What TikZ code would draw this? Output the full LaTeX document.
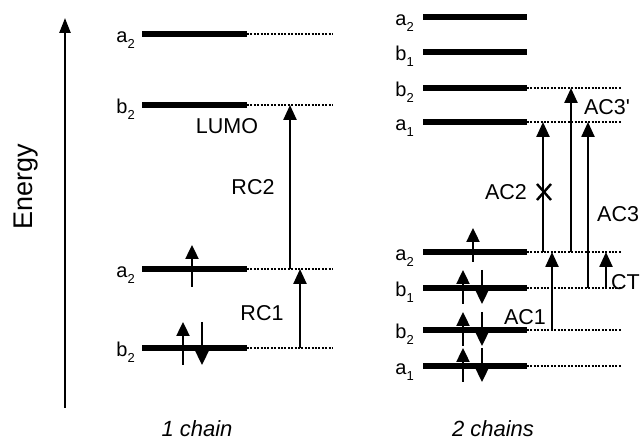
\documentclass[tikz,border=0pt]{standalone}
\usepackage{fontspec}
\setmainfont{Liberation Sans}
\usetikzlibrary{arrows.meta}
\newcommand{\lvl}[2]{#1\raisebox{-0.3em}{\fontsize{13}{13}\selectfont #2}}
\begin{document}
\begin{tikzpicture}[x=1pt,y=-1pt,
  levelline/.style={line width=5.4pt},
  guide/.style={line width=2pt,dash pattern=on 2pt off 1.4pt},
  trans/.style={line width=2.4pt,-{Triangle[length=15pt,width=13pt]}},
  elec/.style={line width=2.4pt,-{Triangle[length=14pt,width=13pt]}},
  lvlab/.style={font=\fontsize{20}{20}\selectfont,anchor=base east,inner sep=0pt},
  lab/.style={font=\fontsize{21.5}{22}\selectfont,inner sep=0pt},
  ital/.style={font=\fontsize{22}{22}\selectfont\itshape,inner sep=0pt}]
\useasboundingbox (0,0) rectangle (641,443);

% energy axis
\coordinate (ebot) at (65,408);
\coordinate (etop) at (65,18);
\draw[line width=2.4pt,-{Triangle[length=15pt,width=11pt]}] (ebot) -- (etop);
\node[font=\fontsize{27}{27}\selectfont,rotate=90,inner sep=0pt] (energy) at (26,187) {Energy};

% ---------- 1 chain ----------
\foreach \n/\y in {A/34,B/105,C/269,D/348}{
  \coordinate (L\n s) at (142,\y);
  \coordinate (L\n e) at (247,\y);
  \coordinate (L\n d) at (333,\y);
  \draw[levelline] (L\n s) -- (L\n e);
  \draw[guide] (L\n e) -- (L\n d);
}
\node[lvlab] (lA) at (135,43) {\lvl{a}{2}};
\node[lvlab] (lB) at (135,114) {\lvl{b}{2}};
\node[lvlab] (lC) at (135,278) {\lvl{a}{2}};
\node[lvlab] (lD) at (135,357) {\lvl{b}{2}};
\node[lab] (lumo) at (227,126) {LUMO};

% electrons
\coordinate (eC1a) at (192,287); \coordinate (eC1b) at (192,245);
\draw[elec] (eC1a) -- (eC1b);
\coordinate (eD1a) at (183,365); \coordinate (eD1b) at (183,322);
\draw[elec] (eD1a) -- (eD1b);
\coordinate (eD2a) at (202,322); \coordinate (eD2b) at (202,365);
\draw[elec] (eD2a) -- (eD2b);

% transitions
\coordinate (rc2x) at (290,0);
\coordinate (rc1x) at (300,0);
\draw[trans] (rc2x |- LCd) -- (rc2x |- LBd);
\draw[trans] (rc1x |- LDd) -- (rc1x |- LCd);
\node[lab] (rc2) at (253,187) {RC2};
\node[lab] (rc1) at (262,313) {RC1};

\node[ital] (one) at (197,429) {1 chain};

% ---------- 2 chains ----------
\foreach \n/\y in {P/17,Q/52}{
  \coordinate (R\n s) at (423,\y);
  \coordinate (R\n e) at (527,\y);
  \draw[levelline] (R\n s) -- (R\n e);
}
\foreach \n/\y in {R/88,S/122,T/252,U/288,V/330,W/366}{
  \coordinate (R\n s) at (423,\y);
  \coordinate (R\n e) at (527,\y);
  \coordinate (R\n d) at (621,\y);
  \draw[levelline] (R\n s) -- (R\n e);
  \draw[guide] (R\n e) -- (R\n d);
}
\node[lvlab] (rP) at (414,26) {\lvl{a}{2}};
\node[lvlab] (rQ) at (414,61) {\lvl{b}{1}};
\node[lvlab] (rR) at (414,97) {\lvl{b}{2}};
\node[lvlab] (rS) at (414,131) {\lvl{a}{1}};
\node[lvlab] (rT) at (414,261) {\lvl{a}{2}};
\node[lvlab] (rU) at (414,297) {\lvl{b}{1}};
\node[lvlab] (rV) at (414,339) {\lvl{b}{2}};
\node[lvlab] (rW) at (414,375) {\lvl{a}{1}};

% electrons
\coordinate (eT1a) at (473,262); \coordinate (eT1b) at (473,228);
\draw[elec] (eT1a) -- (eT1b);
\foreach \n/\y in {U/288,V/330,W/366}{
  \coordinate (e\n1a) at (463,\y+16); \coordinate (e\n1b) at (463,\y-18);
  \coordinate (e\n2a) at (482,\y-18); \coordinate (e\n2b) at (482,\y+16);
  \draw[elec] (e\n1a) -- (e\n1b);
  \draw[elec] (e\n2a) -- (e\n2b);
}

% transitions
\coordinate (ac2x) at (543,0);
\coordinate (ac1x) at (552,0);
\coordinate (ac3px) at (571,0);
\coordinate (ac3x) at (588,0);
\coordinate (ctx) at (606,0);
\draw[trans] (ac2x |- RTd) -- (ac2x |- RSd);
\draw[trans] (ac3px |- RTd) -- (ac3px |- RRd);
\draw[trans] (ac3x |- RUd) -- (ac3x |- RSd);
\draw[trans] (ac1x |- RVd) -- (ac1x |- RTd);
\draw[trans] (ctx |- RUd) -- (ctx |- RTd);

% forbidden mark
\coordinate (xc) at (544,192);
\draw[line width=2.4pt] ([shift={(-7,-8)}]xc) -- ([shift={(7,8)}]xc)
                      ([shift={(-7,8)}]xc) -- ([shift={(7,-8)}]xc);

\node[lab] (ac2) at (506,192) {AC2};
\node[lab] (ac3p) at (607,107) {AC3\textquotesingle};
\node[lab,anchor=west] (ac3) at (597,214) {AC3};
\node[lab] (ac1) at (525,317) {AC1};
\node[lab,anchor=west] (ct) at (611,282) {CT};

\node[ital] (two) at (493,429) {2 chains};
\end{tikzpicture}
\end{document}
